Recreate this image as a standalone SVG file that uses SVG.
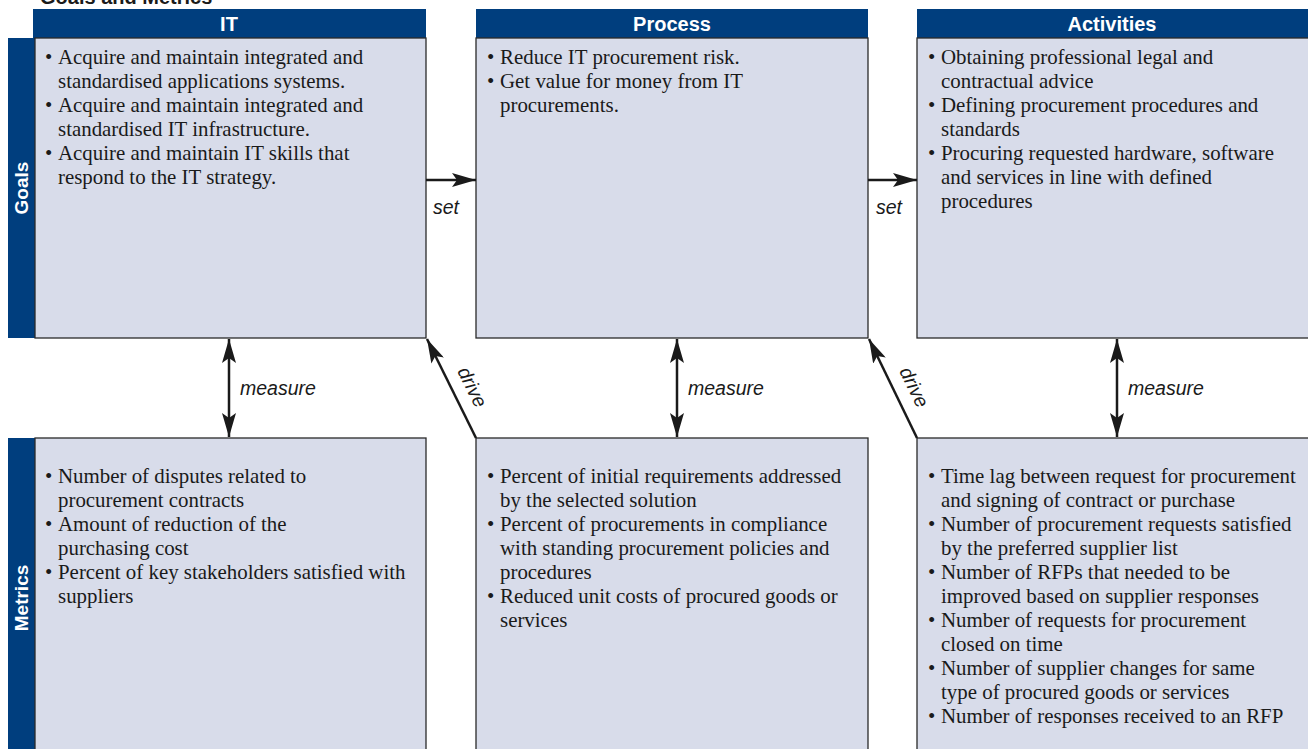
<svg xmlns="http://www.w3.org/2000/svg" width="1308" height="749" viewBox="0 0 1308 749">
<style>
.hdr{fill:#003e7e}
.box{fill:#d8dcea;stroke:#2a2a2a;stroke-width:1.3}
.ht{font-family:"Liberation Sans",Arial,sans-serif;font-weight:bold;font-size:20px;fill:#fff;text-anchor:middle}
.side{font-family:"Liberation Sans",Arial,sans-serif;font-weight:bold;font-size:19px;fill:#fff;text-anchor:middle}
.bt{font-family:"Liberation Serif","Times New Roman",serif;font-size:20.9px;fill:#1a1a1a}
.lbl{font-family:"Liberation Sans",Arial,sans-serif;font-style:italic;font-size:19.5px;fill:#1a1a1a}
.con{stroke:#1a1a1a;stroke-width:2.5;fill:none}
</style>
<defs>
<marker id="ah" viewBox="0 0 24 14" refX="24" refY="7" markerWidth="24" markerHeight="14" markerUnits="userSpaceOnUse" orient="auto-start-reverse">
<path d="M0,0 L24,7 L0,14 L5,7 Z" fill="#1a1a1a"/>
</marker>
</defs>
<rect width="1308" height="749" fill="#fff"/>
<text x="40" y="4" font-family="Liberation Sans,Arial,sans-serif" font-weight="bold" font-size="20" fill="#1a1a1a">Goals and Metrics</text>

<g id="side-goals">
<rect x="8" y="38" width="27" height="300" class="hdr"/>
<text class="side" transform="translate(28,188) rotate(-90)">Goals</text>
</g>
<g id="side-metrics">
<rect x="8" y="438" width="27" height="312" class="hdr"/>
<text class="side" transform="translate(28,598) rotate(-90)">Metrics</text>
</g>

<g id="it-goals">
<rect x="33" y="9" width="393" height="29" class="hdr"/>
<text x="229" y="31" class="ht">IT</text>
<rect x="35" y="38" width="391" height="300" class="box"/>
<text class="bt">
<tspan x="45" y="64">•</tspan><tspan x="58" y="64">Acquire and maintain integrated and</tspan>
<tspan x="58" y="88">standardised applications systems.</tspan>
<tspan x="45" y="112">•</tspan><tspan x="58" y="112">Acquire and maintain integrated and</tspan>
<tspan x="58" y="136">standardised IT infrastructure.</tspan>
<tspan x="45" y="160">•</tspan><tspan x="58" y="160">Acquire and maintain IT skills that</tspan>
<tspan x="58" y="184">respond to the IT strategy.</tspan>
</text>
</g>

<g id="process-goals">
<rect x="476" y="9" width="392" height="29" class="hdr"/>
<text x="672" y="31" class="ht">Process</text>
<rect x="476" y="38" width="392" height="300" class="box"/>
<text class="bt">
<tspan x="487" y="64">•</tspan><tspan x="500" y="64">Reduce IT procurement risk.</tspan>
<tspan x="487" y="88">•</tspan><tspan x="500" y="88">Get value for money from IT</tspan>
<tspan x="500" y="112">procurements.</tspan>
</text>
</g>

<g id="activities-goals">
<rect x="917" y="9" width="391" height="29" class="hdr"/>
<text x="1112" y="31" class="ht">Activities</text>
<rect x="917" y="38" width="392" height="300" class="box"/>
<text class="bt">
<tspan x="928" y="64">•</tspan><tspan x="941" y="64">Obtaining professional legal and</tspan>
<tspan x="941" y="88">contractual advice</tspan>
<tspan x="928" y="112">•</tspan><tspan x="941" y="112">Defining procurement procedures and</tspan>
<tspan x="941" y="136">standards</tspan>
<tspan x="928" y="160">•</tspan><tspan x="941" y="160">Procuring requested hardware, software</tspan>
<tspan x="941" y="184">and services in line with defined</tspan>
<tspan x="941" y="208">procedures</tspan>
</text>
</g>

<g id="it-metrics">
<rect x="35" y="438" width="391" height="320" class="box"/>
<text class="bt">
<tspan x="45" y="483">•</tspan><tspan x="58" y="483">Number of disputes related to</tspan>
<tspan x="58" y="507">procurement contracts</tspan>
<tspan x="45" y="531">•</tspan><tspan x="58" y="531">Amount of reduction of the</tspan>
<tspan x="58" y="555">purchasing cost</tspan>
<tspan x="45" y="579">•</tspan><tspan x="58" y="579">Percent of key stakeholders satisfied with</tspan>
<tspan x="58" y="603">suppliers</tspan>
</text>
</g>

<g id="process-metrics">
<rect x="476" y="438" width="392" height="320" class="box"/>
<text class="bt">
<tspan x="487" y="483">•</tspan><tspan x="500" y="483">Percent of initial requirements addressed</tspan>
<tspan x="500" y="507">by the selected solution</tspan>
<tspan x="487" y="531">•</tspan><tspan x="500" y="531">Percent of procurements in compliance</tspan>
<tspan x="500" y="555">with standing procurement policies and</tspan>
<tspan x="500" y="579">procedures</tspan>
<tspan x="487" y="603">•</tspan><tspan x="500" y="603">Reduced unit costs of procured goods or</tspan>
<tspan x="500" y="627">services</tspan>
</text>
</g>

<g id="activities-metrics">
<rect x="917" y="438" width="392" height="320" class="box"/>
<text class="bt">
<tspan x="928" y="483">•</tspan><tspan x="941" y="483">Time lag between request for procurement</tspan>
<tspan x="941" y="507">and signing of contract or purchase</tspan>
<tspan x="928" y="531">•</tspan><tspan x="941" y="531">Number of procurement requests satisfied</tspan>
<tspan x="941" y="555">by the preferred supplier list</tspan>
<tspan x="928" y="579">•</tspan><tspan x="941" y="579">Number of RFPs that needed to be</tspan>
<tspan x="941" y="603">improved based on supplier responses</tspan>
<tspan x="928" y="627">•</tspan><tspan x="941" y="627">Number of requests for procurement</tspan>
<tspan x="941" y="651">closed on time</tspan>
<tspan x="928" y="675">•</tspan><tspan x="941" y="675">Number of supplier changes for same</tspan>
<tspan x="941" y="699">type of procured goods or services</tspan>
<tspan x="928" y="723">•</tspan><tspan x="941" y="723">Number of responses received to an RFP</tspan>
</text>
</g>

<g id="connectors">
<line x1="426" y1="180" x2="476" y2="180" class="con" marker-end="url(#ah)"/>
<text x="433" y="214" class="lbl">set</text>
<line x1="868" y1="180" x2="917" y2="180" class="con" marker-end="url(#ah)"/>
<text x="876" y="214" class="lbl">set</text>

<line x1="229" y1="339" x2="229" y2="437" class="con" marker-start="url(#ah)" marker-end="url(#ah)"/>
<text x="240" y="395" class="lbl">measure</text>
<line x1="677" y1="339" x2="677" y2="437" class="con" marker-start="url(#ah)" marker-end="url(#ah)"/>
<text x="688" y="395" class="lbl">measure</text>
<line x1="1117" y1="339" x2="1117" y2="437" class="con" marker-start="url(#ah)" marker-end="url(#ah)"/>
<text x="1128" y="395" class="lbl">measure</text>

<line x1="476" y1="438" x2="427" y2="339" class="con" marker-end="url(#ah)"/>
<text class="lbl" transform="translate(457,371) rotate(63.7)">drive</text>
<line x1="917" y1="438" x2="869" y2="339" class="con" marker-end="url(#ah)"/>
<text class="lbl" transform="translate(899,371) rotate(64.1)">drive</text>
</g>
</svg>
